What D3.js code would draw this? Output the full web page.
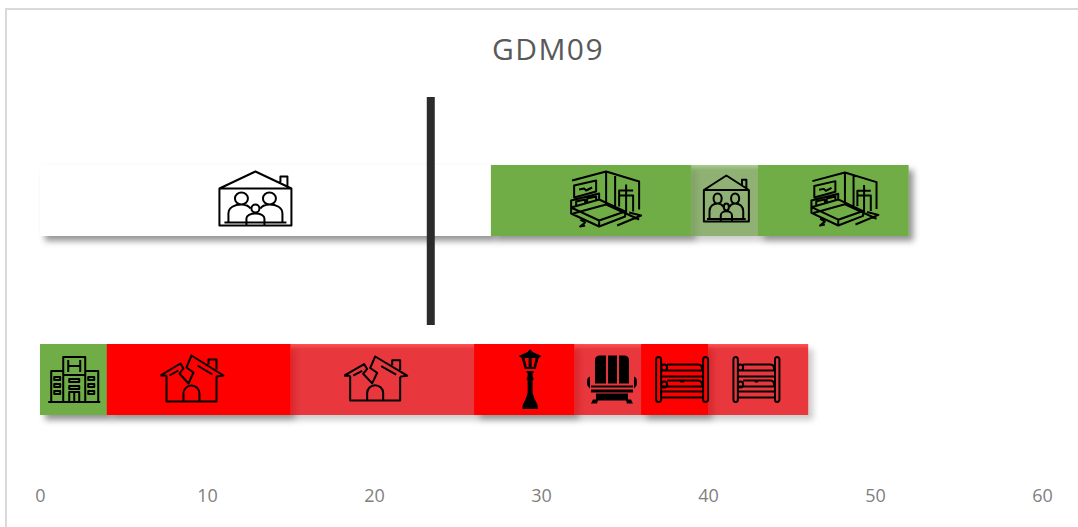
<!DOCTYPE html>
<html>
<head>
<meta charset="utf-8">
<script src="https://cdn.jsdelivr.net/npm/d3@7"></script>
<style>
html,body{margin:0;padding:0;background:#fff;overflow:hidden}
svg{display:block}
.tick text{font-family:"Open Sans",sans-serif;font-size:18px;fill:#7f7f7f}
</style>
</head>
<body>
<svg id="chart" width="1078" height="527"></svg>
<script>
const chartTitle = "GDM09";
const rows = ["upper", "lower"];
const axisTicks = [0, 10, 20, 30, 40, 50, 60];
const markerValue = 23.4;

const upperLengths = [27, 12, 4, 9];
const upperStates = ["blank", "green", "greenSoft", "green"];
const upperGlyphs = ["family", "bedroom", "family", "bedroom"];
const upperGlyphCentres = [12.9, 33.9, 41.1, 48.2];

const lowerLengths = [4, 11, 11, 6, 4, 4, 6];
const lowerStates = ["green", "red", "redSoft", "red", "redSoft", "red", "redSoft"];
const lowerGlyphs = ["hotel", "broken", "broken", "lamp", "chair", "bunk", "bunk"];
const lowerGlyphCentres = [2.05, 9.1, 20.1, 29.35, 34.25, 38.45, 42.9];

// Pixel size of each drawn pictogram, listed row by row
const upperGlyphSizes = [[72, 54], [70, 56], [45, 46], [67, 54]];
const lowerGlyphSizes = [[52, 47], [63, 48], [63, 46], [23, 61], [50, 48], [52, 46], [46, 46]];

const fills = {blank: "#ffffff", green: "#70ad47", greenSoft: "#7ba45c", red: "#ff0000", redSoft: "#e4171a"};
const topEdge = {greenSoft: "#9ac47f", redSoft: "#ff3538"};

// Pictograms in their own native coordinates; "line" is stroked, "solid" is filled
const glyphs = {
  family: {w: 72, h: 54,
    line: "M0,17L36,0L72,17M61,12V5H68V16M0,17H72V54H0ZM5,51H67" +
      "M15.5,27a6.5,6 0 1 0 13,0a6.5,6 0 1 0 -13,0" +
      "M43.5,27a6.5,6 0 1 0 13,0a6.5,6 0 1 0 -13,0" +
      "M9,51V42C9,36 15,33 22,33C26,33 29,34 31,37M63,51V42C63,36 57,33 50,33C46,33 43,34 41,37" +
      "M32,37a4,4 0 1 0 8,0a4,4 0 1 0 -8,0" +
      "M27,54V47C27,44 31,42 36,42C41,42 45,44 45,47V54"},
  bedroom: {w: 70, h: 56,
    line: "M1,10L35,1L68,11V39M35,1V34L68,49M44,3V38M35,34L2,43" +
      "M3,15L25,10V21L3,27ZM8,19L13,18L15,20L21,17" +
      "M48,36V20H62M55,14V42M48,25H62V41" +
      "M0,37V30L28,23V30M5,35V31L14,29V33M16,32V28L25,26V30" +
      "M0,37L28,29L54,41L28,50ZM0,37V43L28,56L54,46V41" +
      "M28,50V56M9,49L14,52L9,56L14,55M46,55L70,45L58,42"},
  hotel: {w: 52, h: 47,
    line: "M0,46H52M15,46V1H37V46M3,46V15H15M37,15H50V46" +
      "M20,4V16M32,4V16M20,10H32M15,19H37M21,46V36H31V46M26,36V46" +
      "M6,21H12V24H6ZM6,28H12V31H6ZM6,35H12V38H6ZM40,21H46V24H40ZM40,28H46V31H40ZM40,35H46V38H40Z" +
      "M21,23H31V26H21ZM21,30H31V33H21Z"},
  broken: {w: 63, h: 48,
    line: "M0,20L20,8L23,13L19,18L28,28L33,17L26,12L31,0L63,20L56,21M0,20H6" +
      "M48,9V4H56V14M6,20V46H56V21M23,46V38A8,8 0 0 1 39,38V46" +
      "M9,20L18,15M37,10L52,19"},
  lamp: {w: 23, h: 61,
    solid: "M11.5,0L14,3L23,7L20,9L17,20H6L3,9L0,7L9,3ZM6,9L8,18H10V9ZM13,9V18H15L17,9Z" +
      "M8,22H15V24H14V27L15,30L14,32V44L16,50L19,56V60H4V56L7,50L9,44V32L8,30L9,27V24H8Z"},
  chair: {w: 50, h: 48,
    solid: "M8,5Q8,0 13,0H19V28H8ZM21,0H30V28H21ZM32,0H37Q42,0 42,5V28H32Z" +
      "M0,26Q0,22 3,21V33Q0,31 0,28ZM50,26Q50,22 47,21V33Q50,31 50,28Z" +
      "M4,30H46V32H4ZM4,34H46V37H4Z" +
      "M9,38H41V44H44L46,48H40L39,45H11L10,48H4L6,44H9Z"},
  bunk: {w: 52, h: 46,
    line: "M0,3a2.5,2.5 0 0 1 5,0V43a2.5,2.5 0 0 1 -5,0ZM47,3a2.5,2.5 0 0 1 5,0V43a2.5,2.5 0 0 1 -5,0Z" +
      "M5,14H47M5,20H47M24,25H28M5,30H47M5,35H47M5,41H47" +
      "M5,11a3,3 0 1 1 6,0a3,3 0 0 1 -6,0M11,8H42Q46,8 46,13" +
      "M5,28a3,3 0 1 1 6,0a3,3 0 0 1 -6,0M11,24H42Q46,24 46,29"}
};

const width = 1078, height = 527;
const svg = d3.select("#chart");

const x = d3.scaleLinear().domain([0, 60]).range([40, 1042]);
const y = d3.scaleBand().domain(rows).range([165, 415]).paddingInner(108 / 179).paddingOuter(0);

const defs = svg.append("defs");
function shadowFilter(id, opacity) {
  const f = defs.append("filter").attr("id", id)
    .attr("x", "-20%").attr("y", "-20%").attr("width", "140%").attr("height", "160%");
  f.append("feDropShadow").attr("dx", 5).attr("dy", 5).attr("stdDeviation", 3.2)
    .attr("flood-color", "#000").attr("flood-opacity", opacity);
}
shadowFilter("shadow", 0.42);
shadowFilter("shadowSoft", 0.24);
Object.entries(topEdge).forEach(([state, edge]) => {
  const g = defs.append("linearGradient").attr("id", "fill-" + state)
    .attr("x1", 0).attr("x2", 0).attr("y1", 0).attr("y2", 1);
  g.append("stop").attr("offset", 0).attr("stop-color", edge);
  g.append("stop").attr("offset", 0.07).attr("stop-color", fills[state]);
});

// Chart frame: only its top and left edges fall inside the window
svg.append("path")
  .attr("d", `M6,${height}V9H${width}`)
  .attr("fill", "none").attr("stroke", "#d9d9d9").attr("stroke-width", 2);

svg.append("text").attr("x", 548).attr("y", 60)
  .attr("text-anchor", "middle")
  .attr("font-family", "'Open Sans',sans-serif").attr("font-size", 30)
  .attr("letter-spacing", 1.4)
  .attr("fill", "#595959").text(chartTitle);

const axis = d3.axisBottom(x).tickValues(axisTicks).tickSize(0).tickPadding(0).tickFormat(d3.format("d"));
const axisG = svg.append("g").attr("transform", "translate(0,484)").call(axis);
axisG.select(".domain").remove();
axisG.selectAll("text").attr("dy", "1.0em");

function buildSegments(row, lengths, states, names, centres, sizes) {
  let run = 0;
  return lengths.map((len, i) => {
    const seg = {row, start: run, end: run + len, state: states[i], glyph: names[i],
                 centre: centres[i], size: sizes[i]};
    run += len;
    return seg;
  });
}
const segments = [
  ...buildSegments("upper", upperLengths, upperStates, upperGlyphs, upperGlyphCentres, upperGlyphSizes),
  ...buildSegments("lower", lowerLengths, lowerStates, lowerGlyphs, lowerGlyphCentres, lowerGlyphSizes)
];
const isSoft = d => d.state.endsWith("Soft");

// Solid segments cast their shadows first; the translucent ones sit over them
svg.append("g").selectAll("rect")
  .data([...segments.filter(d => !isSoft(d)), ...segments.filter(isSoft)])
  .join("rect")
  .attr("x", d => x(d.start))
  .attr("y", d => y(d.row))
  .attr("width", d => x(d.end) - x(d.start))
  .attr("height", y.bandwidth())
  .attr("fill", d => isSoft(d) ? `url(#fill-${d.state})` : fills[d.state])
  .attr("opacity", d => isSoft(d) ? 0.85 : 1)
  .attr("filter", d => isSoft(d) ? "url(#shadowSoft)" : "url(#shadow)");

// Solid faces again, above the shadows of the translucent segments
svg.append("g").selectAll("rect")
  .data(segments.filter(d => !isSoft(d)))
  .join("rect")
  .attr("x", d => x(d.start))
  .attr("y", d => y(d.row))
  .attr("width", d => x(d.end) - x(d.start))
  .attr("height", y.bandwidth())
  .attr("fill", d => fills[d.state]);

const icons = svg.append("g").selectAll("g").data(segments).join("g")
  .attr("transform", d => {
    const g = glyphs[d.glyph];
    const cy = y(d.row) + y.bandwidth() / 2 + (d.row === "upper" ? -2 : 0);
    return `translate(${x(d.centre) - d.size[0] / 2},${cy - d.size[1] / 2}) scale(${d.size[0] / g.w},${d.size[1] / g.h})`;
  });
icons.filter(d => glyphs[d.glyph].line).append("path")
  .attr("d", d => glyphs[d.glyph].line)
  .attr("fill", "none").attr("stroke", "#000").attr("stroke-width", 2)
  .attr("stroke-linejoin", "round").attr("vector-effect", "non-scaling-stroke");
icons.filter(d => glyphs[d.glyph].solid).append("path")
  .attr("d", d => glyphs[d.glyph].solid)
  .attr("fill", "#000").attr("fill-rule", "evenodd");

// Reference marker crossing both rows
svg.append("line")
  .attr("x1", x(markerValue)).attr("x2", x(markerValue))
  .attr("y1", 97).attr("y2", 325)
  .attr("stroke", "#2b2b2b").attr("stroke-width", 8);
</script>
</body>
</html>
